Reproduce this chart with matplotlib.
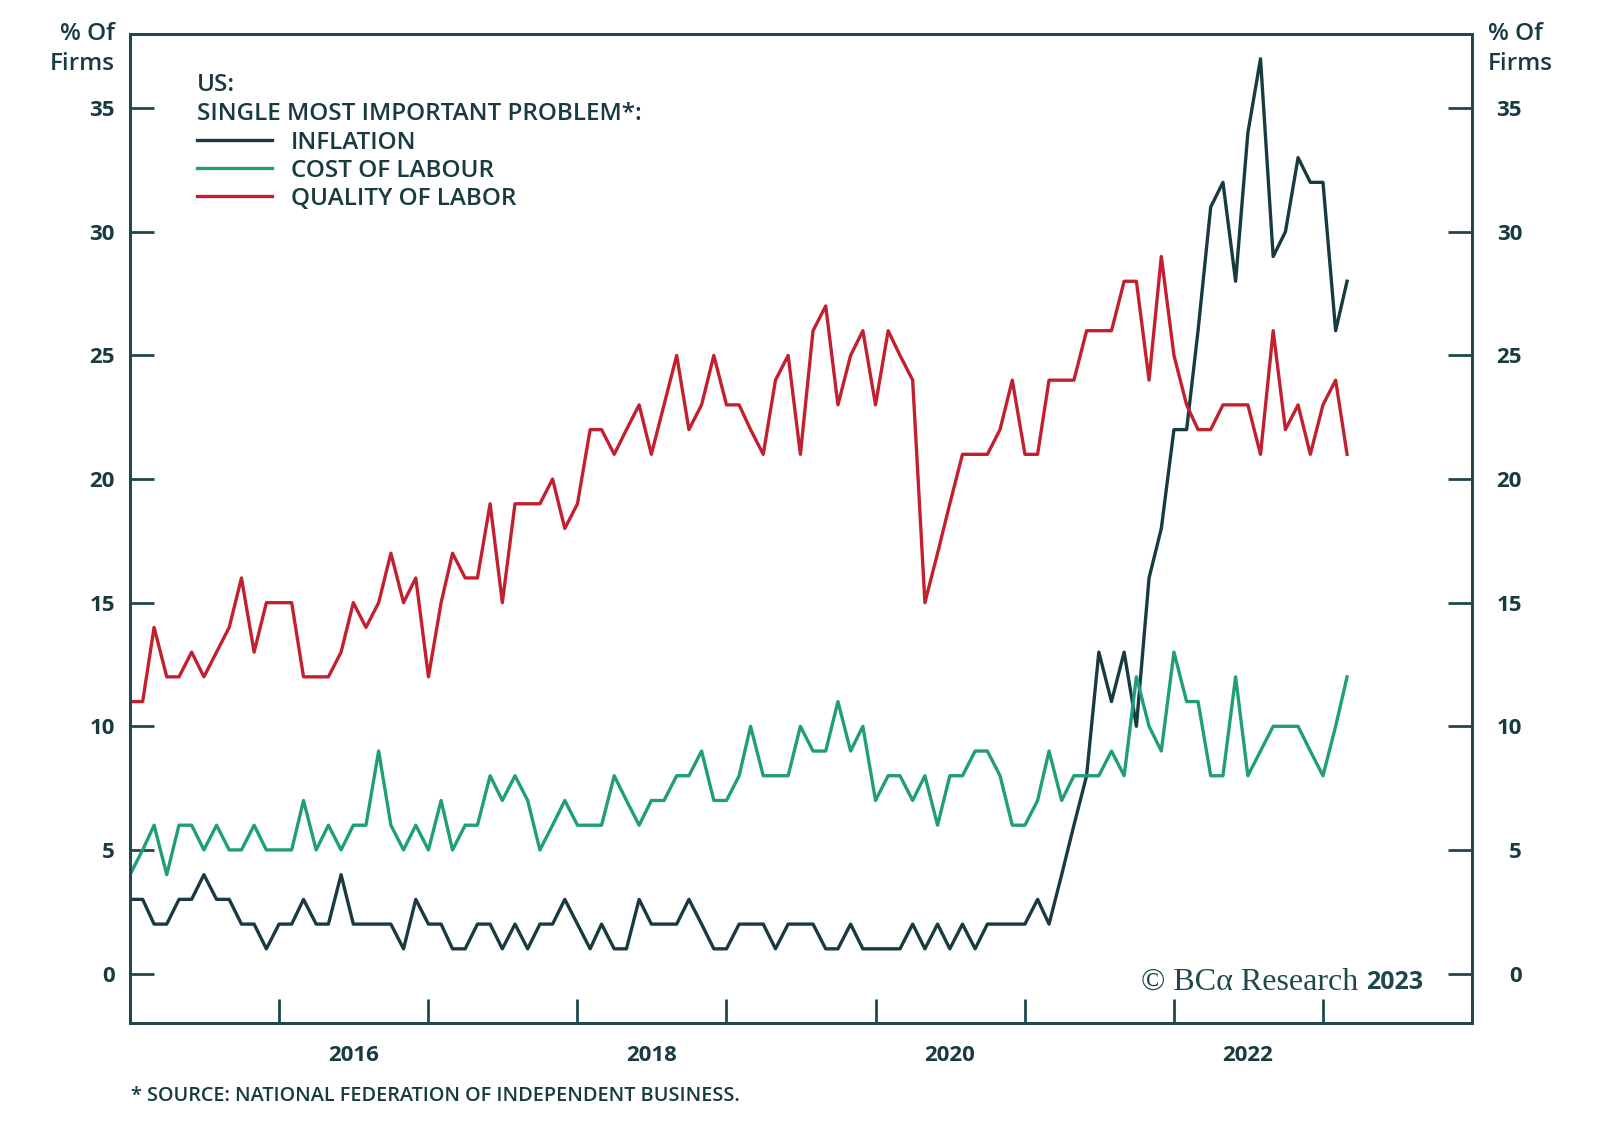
import matplotlib.pyplot as plt
import matplotlib.dates as mdates
from matplotlib.ticker import FixedLocator, FixedFormatter, NullFormatter
import pandas as pd

# monthly readings, Jan 2015 .. Mar 2023 (% of firms)
months = pd.date_range("2015-01-01", periods=99, freq="MS")

inflation = [3, 3, 2, 2, 3, 3, 4, 3, 3, 2, 2, 1, 2, 2, 3, 2, 2, 4, 2, 2,
             2, 2, 1, 3, 2, 2, 1, 1, 2, 2, 1, 2, 1, 2, 2, 3, 2, 1, 2,
             1, 1, 3, 2, 2, 2, 3, 2, 1, 1, 2, 2, 2, 1, 2, 2, 2, 1, 1, 2,
             1, 1, 1, 1, 2, 1, 2, 1, 2, 1, 2, 2, 2, 2, 3, 2, 4, 6, 8,
             13, 11, 13, 10, 16, 18, 22, 22, 26, 31, 32, 28, 34, 37, 29, 30, 33, 32, 32, 26, 28]

cost_of_labour = [4, 5, 6, 4, 6, 6, 5, 6, 5, 5, 6, 5, 5, 5, 7, 5, 6, 5, 6, 6,
                  9, 6, 5, 6, 5, 7, 5, 6, 6, 8, 7, 8, 7, 5, 6, 7, 6, 6, 6,
                  8, 7, 6, 7, 7, 8, 8, 9, 7, 7, 8, 10, 8, 8, 8, 10, 9, 9, 11, 9,
                  10, 7, 8, 8, 7, 8, 6, 8, 8, 9, 9, 8, 6, 6, 7, 9, 7, 8, 8,
                  8, 9, 8, 12, 10, 9, 13, 11, 11, 8, 8, 12, 8, 9, 10, 10, 10, 9, 8, 10, 12]

quality_of_labor = [11, 11, 14, 12, 12, 13, 12, 13, 14, 16, 13, 15, 15, 15, 12, 12, 12, 13, 15, 14,
                    15, 17, 15, 16, 12, 15, 17, 16, 16, 19, 15, 19, 19, 19, 20, 18, 19, 22, 22,
                    21, 22, 23, 21, 23, 25, 22, 23, 25, 23, 23, 22, 21, 24, 25, 21, 26, 27, 23, 25,
                    26, 23, 26, 25, 24, 15, 17, 19, 21, 21, 21, 22, 24, 21, 21, 24, 24, 24, 26,
                    26, 26, 28, 28, 24, 29, 25, 23, 22, 22, 23, 23, 23, 21, 26, 22, 23, 21, 23, 24, 21]

year_labels = ["2016", "2018", "2020", "2022"]
y_ticks = [0, 5, 10, 15, 20, 25, 30, 35]

dark = "#173b40"
green = "#1f9e77"
red = "#c3202f"
frame = "#1e484d"

plt.rcParams["font.family"] = ["Open Sans", "DejaVu Sans"]

fig = plt.figure(figsize=(16, 11.32), dpi=100)
ax = fig.add_axes([130 / 1600, 1 - 1023 / 1132, 1342 / 1600, 989 / 1132])

ax.plot(months, inflation, color=dark, lw=2.4, label="INFLATION")
ax.plot(months, cost_of_labour, color=green, lw=2.4, label="COST OF LABOUR")
ax.plot(months, quality_of_labor, color=red, lw=2.4, label="QUALITY OF LABOR")

ax.set_xlim(pd.Timestamp("2015-01-01"), pd.Timestamp("2024-01-01"))
ax.set_ylim(-2, 38)

# x: ticks at each new year, labels centred on mid-year
ax.xaxis.set_major_locator(mdates.YearLocator())
ax.xaxis.set_major_formatter(NullFormatter())
mid = [mdates.date2num(pd.Timestamp(y + "-07-01")) for y in year_labels]
ax.xaxis.set_minor_locator(FixedLocator(mid))
ax.xaxis.set_minor_formatter(FixedFormatter(year_labels))
ax.tick_params(axis="x", which="major", direction="in", length=17, width=2, color=frame)
ax.tick_params(axis="x", which="minor", length=0, pad=16, labelsize=16, labelcolor=dark)
for t in ax.get_xticklabels(minor=True):
    t.set_fontweight("bold")

# y: both sides
ax.set_yticks(y_ticks)
ax.tick_params(axis="y", direction="in", length=17, width=2, color=frame,
               pad=11, labelsize=16, labelcolor=dark)
for t in ax.get_yticklabels():
    t.set_fontweight("bold")

ax2 = ax.twinx()
ax2.set_ylim(ax.get_ylim())
ax2.set_yticks(y_ticks)
ax2.tick_params(axis="y", direction="in", length=17, width=2, color=frame,
                pad=36, labelsize=16, labelcolor=dark)
for t in ax2.get_yticklabels():
    t.set_fontweight("bold")
    t.set_horizontalalignment("right")

for a in (ax, ax2):
    for s in a.spines.values():
        s.set_color(frame)
        s.set_linewidth(2)

fig.text(115 / 1600, 1 - 49 / 1132, "% Of\nFirms", ha="right", va="center",
         fontsize=17.5, fontweight="semibold", color=dark,
         multialignment="right", linespacing=1.3)
fig.text(1488 / 1600, 1 - 49 / 1132, "% Of\nFirms", ha="left", va="center",
         fontsize=17.5, fontweight="semibold", color=dark,
         multialignment="left", linespacing=1.3)

leg = ax.legend(title="US:\nSINGLE MOST IMPORTANT PROBLEM*:", loc="upper left",
                bbox_to_anchor=(67 / 1342, 1 - 39 / 989), frameon=False,
                prop={"size": 17.5, "weight": "semibold"},
                title_fontproperties={"size": 17.5, "weight": "semibold"},
                handlelength=3.1, handletextpad=0.75,
                labelspacing=0.17, alignment="left", borderpad=0, borderaxespad=0)
leg.get_title().set_multialignment("left")
leg.get_title().set_color(dark)
leg.get_title().set_linespacing(1.3)
for t in leg.get_texts():
    t.set_color(dark)

ax.text(0.915, 0.034, "\u00a9 BC\u03b1 Research", transform=ax.transAxes, ha="right",
        va="baseline", fontsize=23, color=frame, family=["Liberation Serif", "DejaVu Serif"])
ax.text(0.921, 0.034, "2023", transform=ax.transAxes, ha="left", va="baseline",
        fontsize=18, fontweight="bold", color=frame)

fig.text(131 / 1600, 1 - 1096 / 1132, "* SOURCE: NATIONAL FEDERATION OF INDEPENDENT BUSINESS.",
         ha="left", va="center", fontsize=14.3, fontweight="semibold", color=dark)

fig.savefig("out.png", dpi=100)
